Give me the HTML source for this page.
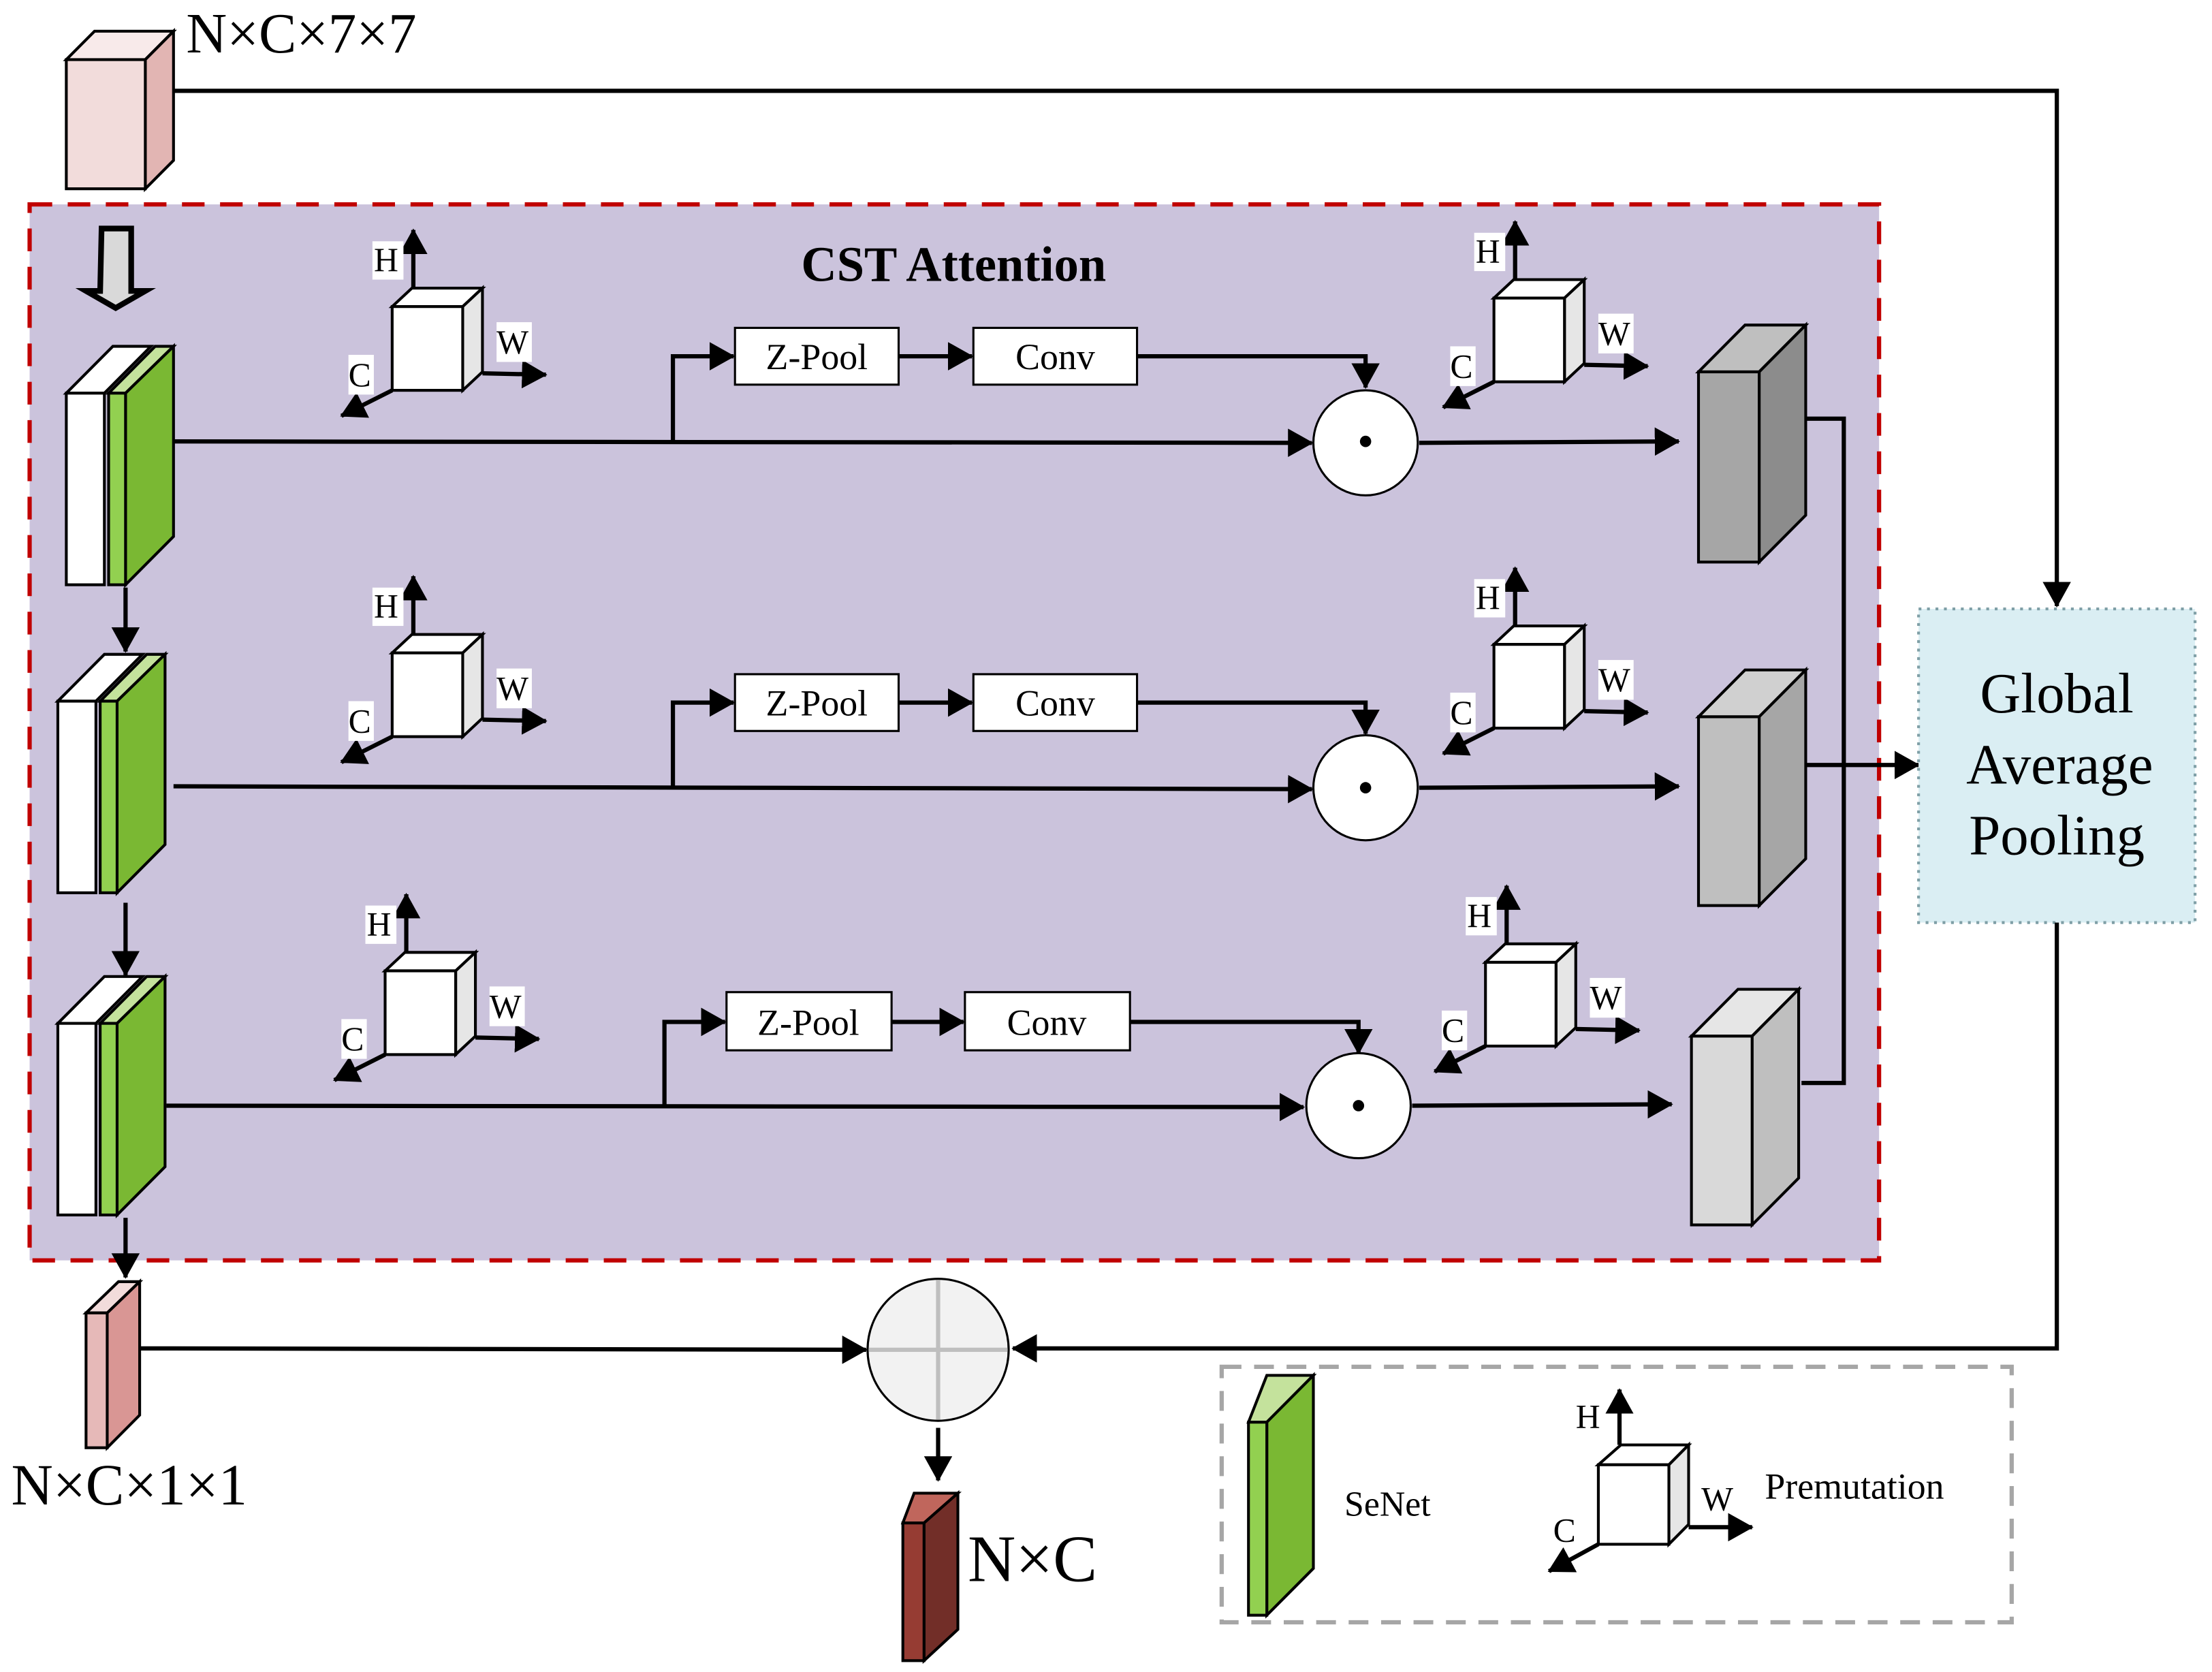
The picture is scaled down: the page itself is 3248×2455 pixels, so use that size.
<!DOCTYPE html>
<html><head><meta charset="utf-8"><style>
html,body{margin:0;padding:0;background:#fff;}
svg{display:block;}
text{font-family:"Liberation Serif",serif;fill:#000;}
</style></head><body>
<svg width="3248" height="2455" viewBox="0 0 1568 1178" preserveAspectRatio="none" xmlns="http://www.w3.org/2000/svg">
<defs>
<marker id="ahb" markerWidth="18" markerHeight="20" refX="17" refY="10" orient="auto" markerUnits="userSpaceOnUse" viewBox="0 0 18 20">
<path d="M0,0 L18,10 L0,20 z" fill="#000"/></marker>
</defs>
<g stroke="#000" stroke-width="2" stroke-linejoin="miter">

<polygon points="47,42 67,22 123,22 103,42" fill="#f8eaea"/>
<polygon points="103,42 123,22 123,113 103,133" fill="#e2b5b3"/>
<rect x="47" y="42" width="56" height="91" fill="#f2dcdb"/>

<polyline points="123,64 1458,64 1458,427" fill="none" stroke-width="3" marker-end="url(#ahb)"/>

<rect x="21" y="144" width="1311" height="744" fill="#cbc3dc" stroke="#c00000" stroke-width="3" stroke-dasharray="16 11"/>

<polygon points="72,161 93,161 93,205 103,205 82,217 61,205 71,205" fill="#d9d9d9" stroke-width="4"/>

<g>
<polygon points="47,277 80,244 107,244 74,277" fill="#fff"/>
<rect x="47" y="277" width="27" height="135" fill="#fff"/>
<polygon points="77,277 110,244 123,244 89,277" fill="#c4e29c"/>
<polygon points="89,277 123,244 123,378 89,412" fill="#7ab833"/>
<rect x="77" y="277" width="12" height="135" fill="#92d050"/>
</g>
<g transform="translate(-6,217)">
<polygon points="47,277 80,244 107,244 74,277" fill="#fff"/>
<rect x="47" y="277" width="27" height="135" fill="#fff"/>
<polygon points="77,277 110,244 123,244 89,277" fill="#c4e29c"/>
<polygon points="89,277 123,244 123,378 89,412" fill="#7ab833"/>
<rect x="77" y="277" width="12" height="135" fill="#92d050"/>
</g>
<g transform="translate(-6,444)">
<polygon points="47,277 80,244 107,244 74,277" fill="#fff"/>
<rect x="47" y="277" width="27" height="135" fill="#fff"/>
<polygon points="77,277 110,244 123,244 89,277" fill="#c4e29c"/>
<polygon points="89,277 123,244 123,378 89,412" fill="#7ab833"/>
<rect x="77" y="277" width="12" height="135" fill="#92d050"/>
</g>
<line x1="89" y1="414" x2="89" y2="459" stroke-width="3" marker-end="url(#ahb)"/>
<line x1="89" y1="636" x2="89" y2="687" stroke-width="3" marker-end="url(#ahb)"/>
<line x1="89" y1="858" x2="89" y2="900" stroke-width="3" marker-end="url(#ahb)"/>

<line x1="123" y1="311" x2="930" y2="312" stroke-width="3" marker-end="url(#ahb)"/>
<polyline points="477,311 477,251 520,251" fill="none" stroke-width="3" marker-end="url(#ahb)"/>
<rect x="521" y="231" width="116" height="40" fill="#fff" stroke-width="1.5"/>
<line x1="637" y1="251" x2="689" y2="251" stroke-width="3" marker-end="url(#ahb)"/>
<rect x="690" y="231" width="116" height="40" fill="#fff" stroke-width="1.5"/>
<polyline points="806,251 968,251 968,273" fill="none" stroke-width="3" marker-end="url(#ahb)"/>
<circle cx="968" cy="312" r="37" fill="#fff" stroke-width="1.5"/>
<line x1="1006" y1="312" x2="1190" y2="311" stroke-width="3" marker-end="url(#ahb)"/>
<polygon points="1204,262 1237,229 1280,229 1247,262" fill="#bfbfbf"/>
<polygon points="1247,262 1280,229 1280,363 1247,396" fill="#8c8c8c"/>
<rect x="1204" y="262" width="43" height="134" fill="#a6a6a6"/>

<line x1="123" y1="554" x2="930" y2="556" stroke-width="3" marker-end="url(#ahb)"/>
<polyline points="477,554 477,495 520,495" fill="none" stroke-width="3" marker-end="url(#ahb)"/>
<rect x="521" y="475" width="116" height="40" fill="#fff" stroke-width="1.5"/>
<line x1="637" y1="495" x2="689" y2="495" stroke-width="3" marker-end="url(#ahb)"/>
<rect x="690" y="475" width="116" height="40" fill="#fff" stroke-width="1.5"/>
<polyline points="806,495 968,495 968,517" fill="none" stroke-width="3" marker-end="url(#ahb)"/>
<circle cx="968" cy="555" r="37" fill="#fff" stroke-width="1.5"/>
<line x1="1006" y1="555" x2="1190" y2="554" stroke-width="3" marker-end="url(#ahb)"/>
<polygon points="1204,505 1237,472 1280,472 1247,505" fill="#d0d0d0"/>
<polygon points="1247,505 1280,472 1280,605 1247,638" fill="#a6a6a6"/>
<rect x="1204" y="505" width="43" height="133" fill="#bfbfbf"/>

<line x1="118" y1="779" x2="924" y2="780" stroke-width="3" marker-end="url(#ahb)"/>
<polyline points="471,779 471,720 514,720" fill="none" stroke-width="3" marker-end="url(#ahb)"/>
<rect x="515" y="699" width="117" height="41" fill="#fff" stroke-width="1.5"/>
<line x1="632" y1="720" x2="683" y2="720" stroke-width="3" marker-end="url(#ahb)"/>
<rect x="684" y="699" width="117" height="41" fill="#fff" stroke-width="1.5"/>
<polyline points="801,720 963,720 963,742" fill="none" stroke-width="3" marker-end="url(#ahb)"/>
<circle cx="963" cy="779" r="37" fill="#fff" stroke-width="1.5"/>
<line x1="1001" y1="779" x2="1185" y2="778" stroke-width="3" marker-end="url(#ahb)"/>
<polygon points="1199,730 1232,697 1275,697 1242,730" fill="#e6e6e6"/>
<polygon points="1242,730 1275,697 1275,830 1242,863" fill="#bfbfbf"/>
<rect x="1199" y="730" width="43" height="133" fill="#d9d9d9"/>

<circle cx="968" cy="311" r="4" fill="#000" stroke="none"/>
<circle cx="968" cy="555" r="4" fill="#000" stroke="none"/>
<circle cx="963" cy="779" r="4" fill="#000" stroke="none"/>

<polyline points="1280,295 1307,295 1307,763 1277,763" fill="none" stroke-width="3"/>
<line x1="1280" y1="539" x2="1360" y2="539" stroke-width="3" marker-end="url(#ahb)"/>

<rect x="1360" y="429" width="196" height="221" fill="#daeef3" stroke="#7f9fa6" stroke-width="2" stroke-dasharray="2 4"/>
<polyline points="1458,650 1458,950 718,950" fill="none" stroke-width="3" marker-end="url(#ahb)"/>

<polygon points="61,925 84,903 99,903 76,925" fill="#f2dcdb"/>
<polygon points="76,925 99,903 99,997 76,1020" fill="#d99694"/>
<rect x="61" y="925" width="15" height="95" fill="#e6b9b8"/>
<line x1="99" y1="950" x2="614" y2="951" stroke-width="3" marker-end="url(#ahb)"/>
<circle cx="665" cy="951" r="50" fill="#f2f2f2" stroke-width="1.5"/>
<line x1="665" y1="902" x2="665" y2="1000" stroke="#bfbfbf" stroke-width="3"/>
<line x1="616" y1="951" x2="714" y2="951" stroke="#bfbfbf" stroke-width="3"/>
<line x1="665" y1="1006" x2="665" y2="1043" stroke-width="3" marker-end="url(#ahb)"/>

<polygon points="640,1073 648,1052 679,1052 655,1073" fill="#c0665c"/>
<polygon points="655,1073 679,1052 679,1148 655,1170" fill="#722e28"/>
<rect x="640" y="1073" width="15" height="97" fill="#963c33"/>

<rect x="866" y="963" width="560" height="180" fill="none" stroke="#a6a6a6" stroke-width="3" stroke-dasharray="14 9"/>
<polygon points="885,1002 898,969 931,969 898,1002" fill="#c4e29c"/>
<polygon points="898,1002 931,969 931,1105 898,1138" fill="#7ab833"/>
<rect x="885" y="1002" width="13" height="136" fill="#92d050"/>
<line x1="1148" y1="1018" x2="1148" y2="979" stroke-width="3" marker-end="url(#ahb)"/>
<polygon points="1133,1032 1149,1018 1197,1018 1183,1032" fill="#fff"/>
<polygon points="1183,1032 1197,1018 1197,1074 1183,1088" fill="#e6e6e6"/>
<rect x="1133" y="1032" width="50" height="56" fill="#fff"/>
<line x1="1197" y1="1076" x2="1242" y2="1076" stroke-width="3" marker-end="url(#ahb)"/>
<line x1="1133" y1="1088" x2="1098" y2="1107" stroke-width="3" marker-end="url(#ahb)"/>
</g>

<g id="perms">
<g transform="translate(278,216)">
<line x1="15" y1="-13" x2="15" y2="-54" stroke="#000" stroke-width="3" marker-end="url(#ahb)"/>
<rect x="-14" y="-46" width="22" height="27" fill="#fff"/><text x="-13" y="-25" font-size="24">H</text>
<polygon points="0,0 14,-13 64,-13 50,0" fill="#fff" stroke="#000" stroke-width="2"/>
<polygon points="50,0 64,-13 64,46 50,59" fill="#e6e6e6" stroke="#000" stroke-width="2"/>
<rect x="0" y="0" width="50" height="59" fill="#fff" stroke="#000" stroke-width="2"/>
<line x1="64" y1="47" x2="109" y2="48" stroke="#000" stroke-width="3" marker-end="url(#ahb)"/>
<rect x="74" y="11" width="25" height="28" fill="#fff"/><text x="74" y="33" font-size="24">W</text>
<line x1="0" y1="59" x2="-36" y2="77" stroke="#000" stroke-width="3" marker-end="url(#ahb)"/>
<rect x="-31" y="34" width="18" height="28" fill="#fff"/><text x="-31" y="56" font-size="24">C</text>
</g>
</g>
<use href="#perms" transform="translate(0,244)"/>
<use href="#perms" transform="translate(-5,468)"/>
<use href="#perms" transform="translate(781,-6)"/>
<use href="#perms" transform="translate(781,238)"/>
<use href="#perms" transform="translate(775,462)"/>

<text x="132" y="37" font-size="40">N×C×7×7</text>
<text x="676" y="198" font-size="35" font-weight="bold" text-anchor="middle">CST Attention</text>
<g font-size="26" text-anchor="middle">
<text x="579" y="260">Z-Pool</text><text x="748" y="260">Conv</text>
<text x="579" y="504">Z-Pool</text><text x="748" y="504">Conv</text>
<text x="573" y="729">Z-Pool</text><text x="742" y="729">Conv</text>
</g>
<g font-size="40" text-anchor="middle">
<text x="1458" y="502">Global</text><text x="1460" y="552">Average</text><text x="1458" y="602">Pooling</text>
</g>
<text x="8" y="1060" font-size="41">N×C×1×1</text>
<text x="686" y="1114" font-size="47">N×C</text>
<text x="953" y="1068" font-size="25">SeNet</text>
<text x="1251" y="1056" font-size="26">Premutation</text>
<text x="1117" y="1006" font-size="24">H</text>
<text x="1206" y="1064" font-size="24">W</text>
<text x="1101" y="1086" font-size="24">C</text>
</svg>
</body></html>
